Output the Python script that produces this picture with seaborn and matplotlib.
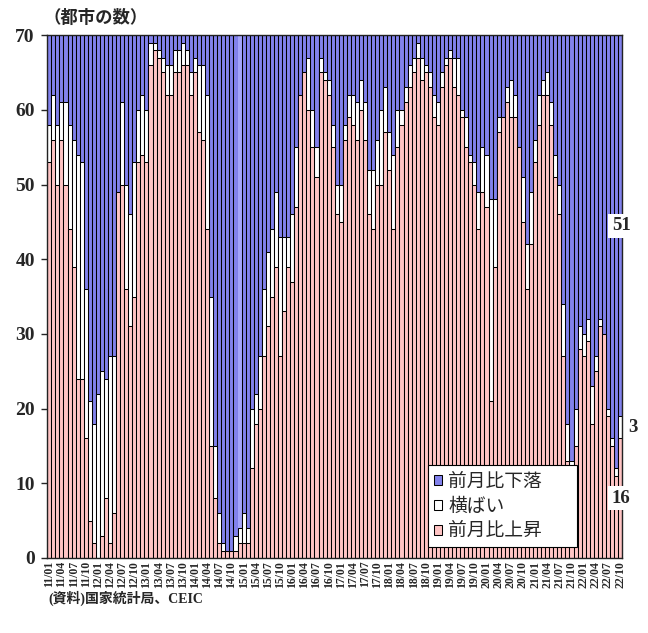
import matplotlib
matplotlib.use('Agg')
import matplotlib.pyplot as plt
import seaborn as sns
import pandas as pd

# months 2011/01 .. 2022/10
months = [f"{y % 100:02d}/{m:02d}" for y in range(2011, 2023) for m in range(1, 13)][:142]

# number of cities (70-city survey), month-on-month
rise = [53, 56, 50, 56, 50, 44, 39, 24, 24, 16, 5, 2,
        0, 3, 8, 2, 6, 49, 50, 36, 31, 35, 53, 54,
        53, 66, 68, 67, 65, 62, 62, 65, 65, 66, 66, 62,
        65, 57, 56, 44, 15, 8, 2, 1, 1, 1, 1, 2,
        2, 2, 12, 18, 20, 27, 31, 35, 39, 27, 33, 39,
        37, 47, 62, 65, 60, 55, 51, 65, 64, 62, 55, 46,
        45, 56, 59, 58, 56, 60, 56, 46, 44, 50, 50, 57,
        52, 44, 55, 58, 61, 63, 65, 67, 64, 65, 63, 59,
        58, 63, 66, 67, 63, 62, 59, 55, 53, 50, 44, 49,
        47, 21, 39, 57, 59, 61, 59, 59, 55, 45, 36, 42,
        53, 58, 62, 62, 58, 51, 46, 27, 13, 12, 15, 28,
        27, 29, 18, 25, 31, 30, 19, 15, 11, 16]
flat = [5, 6, 8, 5, 11, 14, 17, 30, 29, 20, 16, 16,
        22, 22, 16, 25, 21, 0, 11, 14, 15, 18, 7, 8,
        7, 3, 1, 1, 2, 4, 4, 3, 3, 3, 2, 3,
        2, 9, 10, 18, 20, 7, 4, 1, 0, 0, 2, 2,
        4, 2, 8, 4, 7, 9, 10, 9, 10, 16, 10, 4,
        9, 8, 0, 0, 7, 5, 4, 2, 1, 2, 3, 4,
        5, 2, 3, 4, 5, 4, 5, 6, 8, 6, 10, 6,
        5, 10, 5, 2, 2, 3, 2, 2, 3, 1, 2, 3,
        3, 2, 1, 1, 4, 5, 1, 4, 1, 3, 5, 6,
        7, 27, 9, 2, 0, 2, 5, 3, 0, 6, 6, 7,
        3, 4, 2, 3, 3, 3, 4, 7, 5, 1, 5, 3,
        3, 3, 5, 2, 1, 0, 1, 1, 1, 3]
fall = [12, 8, 12, 9, 9, 12, 14, 16, 17, 34, 49, 52,
        48, 45, 46, 43, 43, 21, 9, 20, 24, 17, 10, 8,
        10, 1, 1, 2, 3, 4, 4, 2, 2, 1, 2, 5,
        3, 4, 4, 8, 35, 55, 64, 68, 69, 69, 67, 66,
        64, 66, 50, 48, 43, 34, 29, 26, 21, 27, 27, 27,
        24, 15, 8, 5, 3, 10, 15, 3, 5, 6, 12, 20,
        20, 12, 8, 8, 9, 6, 9, 18, 18, 14, 10, 7,
        13, 16, 10, 10, 7, 4, 3, 1, 3, 4, 5, 8,
        9, 5, 3, 2, 3, 3, 10, 11, 16, 17, 21, 15,
        16, 22, 22, 11, 11, 7, 6, 8, 15, 19, 28, 21,
        14, 8, 6, 5, 9, 16, 20, 36, 52, 57, 50, 39,
        40, 38, 47, 43, 38, 40, 50, 54, 58, 51]

BLUE = '#8282EC'
PINK = '#FFC4C4'

df = pd.DataFrame({'month': months, 'rise': rise, 'flat': flat, 'fall': fall})
df['flat_top'] = df['rise'] + df['flat']
df['total'] = df['flat_top'] + df['fall']

sns.set_theme(style='white')
plt.rcParams['font.family'] = ['Liberation Serif', 'Noto Sans CJK JP']

fig = plt.figure(figsize=(6.48, 6.33), dpi=100)
ax = fig.add_axes([0.073, 0.1185, 0.887, 0.826])

bar_kw = dict(x='month', edgecolor='black', linewidth=0.75, width=1.0,
              saturation=1, ax=ax, errorbar=None)
sns.barplot(data=df, y='total', color=BLUE, label='前月比下落', **bar_kw)
sns.barplot(data=df, y='flat_top', color='white', label='横ばい', **bar_kw)
sns.barplot(data=df, y='rise', color=PINK, label='前月比上昇', **bar_kw)

# one lighter (highlighted) column in the falling layer
ax.patches[47].set_facecolor('#A4A4FA')
ax.patches[47].set_edgecolor('#A4A4FA')

ax.set_xlim(-0.5, len(months) - 0.5)
ax.set_ylim(0, 70)
ax.set_yticks(range(0, 71, 10))
ax.set_yticklabels([str(v) for v in range(0, 71, 10)],
                   fontsize=14, fontweight='bold', family='Liberation Serif')
ax.set_xticks(range(0, len(months), 3))
ax.set_xticklabels(months[::3], rotation=90, fontsize=8.5,
                   fontweight='bold', family='Liberation Serif')
ax.tick_params(axis='x', length=0, pad=2)
ax.tick_params(axis='y', length=4, width=1, direction='out', left=True, pad=5)
ax.set_xlabel('')
ax.set_ylabel('')
for s in ax.spines.values():
    s.set_color('#222222')
    s.set_linewidth(1.0)

leg = ax.legend(loc='lower left', bbox_to_anchor=(0.663, 0.021, 0.259, 0.153),
                mode='expand', borderaxespad=0, frameon=True, fancybox=False,
                framealpha=1, edgecolor='black', borderpad=0.3,
                labelspacing=0.2, handlelength=0.45, handleheight=0.45,
                handletextpad=0.3,
                prop={'family': 'Noto Sans CJK JP', 'size': 13.5})
leg.get_frame().set_linewidth(0.8)

# values of the latest month
last = df.iloc[-1]
box = dict(facecolor='white', edgecolor='none', pad=2.5)
num_kw = dict(ha='center', va='center', fontsize=13.5, fontweight='bold',
              family='Liberation Serif')
ax.text(141.3, last['flat_top'] + last['fall'] / 2, f"{last['fall']}",
        bbox=box, **num_kw)
ax.text(144.2, last['rise'] + last['flat'] / 2, f"{last['flat']}",
        clip_on=False, **num_kw)
ax.text(141.3, last['rise'] / 2, f"{last['rise']}", bbox=box, **num_kw)

fig.text(0.148, 0.972, '（都市の数）', ha='center', va='center', fontsize=12.5,
         fontweight='bold', family='Noto Sans CJK JP')
fig.text(0.075, 0.054, '(資料)国家統計局、CEIC', ha='left', va='center',
         fontsize=10, fontweight='bold',
         family=['Liberation Serif', 'Noto Sans CJK JP'])

fig.savefig('out.png', dpi=100)
